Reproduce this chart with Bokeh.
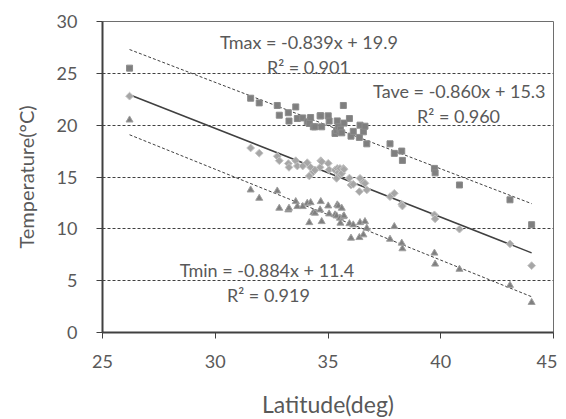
import numpy as np
from bokeh.plotting import figure
from bokeh.models import Label, Range1d, FixedTicker
from bokeh.embed import file_html
from bokeh.resources import INLINE

# Station latitudes (deg) and temperatures (deg C)
lat = [26.2, 31.57, 31.95, 32.75, 32.84, 33.24, 33.27, 33.57, 33.64, 33.88,
       34.08, 34.17, 34.23, 34.35, 34.42, 34.65, 34.68, 34.72, 35.01, 35.05,
       35.31, 35.38, 35.41, 35.46, 35.53, 35.55, 35.61, 35.68, 35.71, 35.95,
       36.02, 36.12, 36.39, 36.42, 36.57, 36.64, 36.72, 37.75, 37.94, 38.27,
       38.30, 39.72, 39.75, 40.83, 43.07, 44.03]
tmax = [25.5, 22.6, 22.15, 21.9, 20.96, 21.2, 20.4, 21.76, 20.64, 20.7,
        20.32, 20.16, 20.74, 19.84, 19.84, 20.9, 20.9, 19.84, 20.9, 20.4,
        19.2, 19.5, 20.41, 19.84, 19.36, 19.6, 19.26, 21.9, 20.2, 20.64,
        18.94, 19.4, 18.82, 20.0, 19.36, 19.9, 18.2, 18.2, 17.28, 17.5,
        16.6, 15.83, 15.4, 14.23, 12.8, 10.4]
tave = [22.8, 17.8, 17.3, 17.0, 16.57, 16.3, 15.93, 16.57, 16.06, 16.06,
        16.38, 15.1, 15.93, 15.5, 15.67, 15.93, 16.57, 16.47, 16.32, 15.7,
        15.67, 14.87, 15.83, 15.42, 15.83, 15.2, 15.36, 15.83, 15.74, 14.9,
        14.23, 14.3, 13.59, 14.87, 14.5, 14.39, 13.75, 13.1, 13.43, 12.37,
        12.2, 11.35, 10.96, 9.97, 8.55, 6.45]
tmin = [20.5, 13.75, 12.95, 13.65, 11.99, 11.83, 11.99, 12.63, 12.15, 12.15,
        12.47, 10.6, 12.53, 11.57, 11.51, 11.83, 12.63, 10.7, 12.21, 11.44,
        11.35, 11.25, 12.31, 12.21, 11.03, 10.55, 11.99, 11.18, 11.25, 10.5,
        9.1, 10.38, 9.16, 10.6, 9.42, 10.7, 10.06, 9.0, 10.22, 8.62,
        8.08, 7.66, 6.6, 6.1, 4.55, 2.9]

x_ticks = [25, 30, 35, 40, 45]
y_ticks = [0, 5, 10, 15, 20, 25, 30]

eq_texts = ["Tmax = -0.839x + 19.9", "Tave = -0.860x + 15.3", "Tmin = -0.884x + 11.4"]
r2_texts = ["R\u00b2 = 0.901", "R\u00b2 = 0.960", "R\u00b2 = 0.919"]

FONT = "Lato"
TXT = "#595959"

p = figure(frame_width=451, frame_height=311, x_range=Range1d(25, 45), y_range=Range1d(0, 30),
           output_backend="svg", toolbar_location=None,
           min_border_left=102, min_border_right=4, min_border_top=21, min_border_bottom=60)

p.background_fill_color = "white"
p.border_fill_color = "white"
p.outline_line_color = "#6e6e6e"
p.outline_line_width = 1

for ax, ticks in ((p.xaxis, x_ticks), (p.yaxis, y_ticks)):
    ax.ticker = FixedTicker(ticks=ticks)
    ax.minor_tick_line_color = None
    ax.major_tick_in = 0
    ax.major_tick_out = 6
    ax.axis_line_color = "#404040"
    ax.axis_line_width = 2
    ax.major_tick_line_color = "#404040"
    ax.major_tick_line_width = 1
    ax.major_label_text_font = FONT
    ax.major_label_text_font_size = "18px"
    ax.major_label_text_color = TXT
    ax.axis_label_text_font = FONT
    ax.axis_label_text_font_style = "normal"
    ax.axis_label_text_color = TXT

p.xaxis.axis_label_text_font_size = "23px"
p.yaxis.axis_label_text_font_size = "20px"
p.xaxis.major_label_standoff = 16
p.yaxis.major_label_standoff = 19
p.xaxis.axis_label = "Latitude(deg)"
p.yaxis.axis_label = "Temperature(\u00b0C)"
p.xaxis.axis_label_standoff = 19
p.yaxis.axis_label_standoff = 16

p.xgrid.grid_line_color = None
# dashed gridlines only inside the frame (top and bottom edges are solid)
p.ygrid.ticker = FixedTicker(ticks=y_ticks[1:-1])
p.ygrid.grid_line_color = "#404040"
p.ygrid.grid_line_dash = "3 2"
p.ygrid.grid_line_width = 1

# trend lines (least squares on the data)
xs = [min(lat), max(lat)]
for vals, dash, w in ((tmax, "3 2", 1), (tave, "solid", 1.5), (tmin, "3 2", 1)):
    c = np.polyfit(lat, vals, 1)
    p.line(xs, list(np.polyval(c, xs)), line_color="#404040", line_width=w, line_dash=dash)

p.scatter(lat, tmax, marker="square", size=6, fill_color="#7f7f7f", line_color="#8c8c8c")
p.scatter(lat, tave, marker="square", size=5.5, angle=np.pi / 4,
          fill_color="#a6a6a6", line_color="#c4c4c4")
p.scatter(lat, tmin, marker="triangle", size=7, fill_color="#7f7f7f", line_color="#a0a0a0")

# left edges of the trendline labels (data units)
label_pos = [((30.21, 28.05), (32.29, 25.65)),
             ((37.00, 23.25), (38.95, 20.85)),
             ((28.43, 6.0), (30.52, 3.65))]
for (eqp, r2p), eq, r2 in zip(label_pos, eq_texts, r2_texts):
    for (lx, ly), t in ((eqp, eq), (r2p, r2)):
        p.add_layout(Label(x=lx, y=ly, text=t, text_align="left", text_baseline="middle",
                           text_font=FONT, text_font_size="18px", text_color=TXT))

open("out.html", "w").write(file_html(p, INLINE))
